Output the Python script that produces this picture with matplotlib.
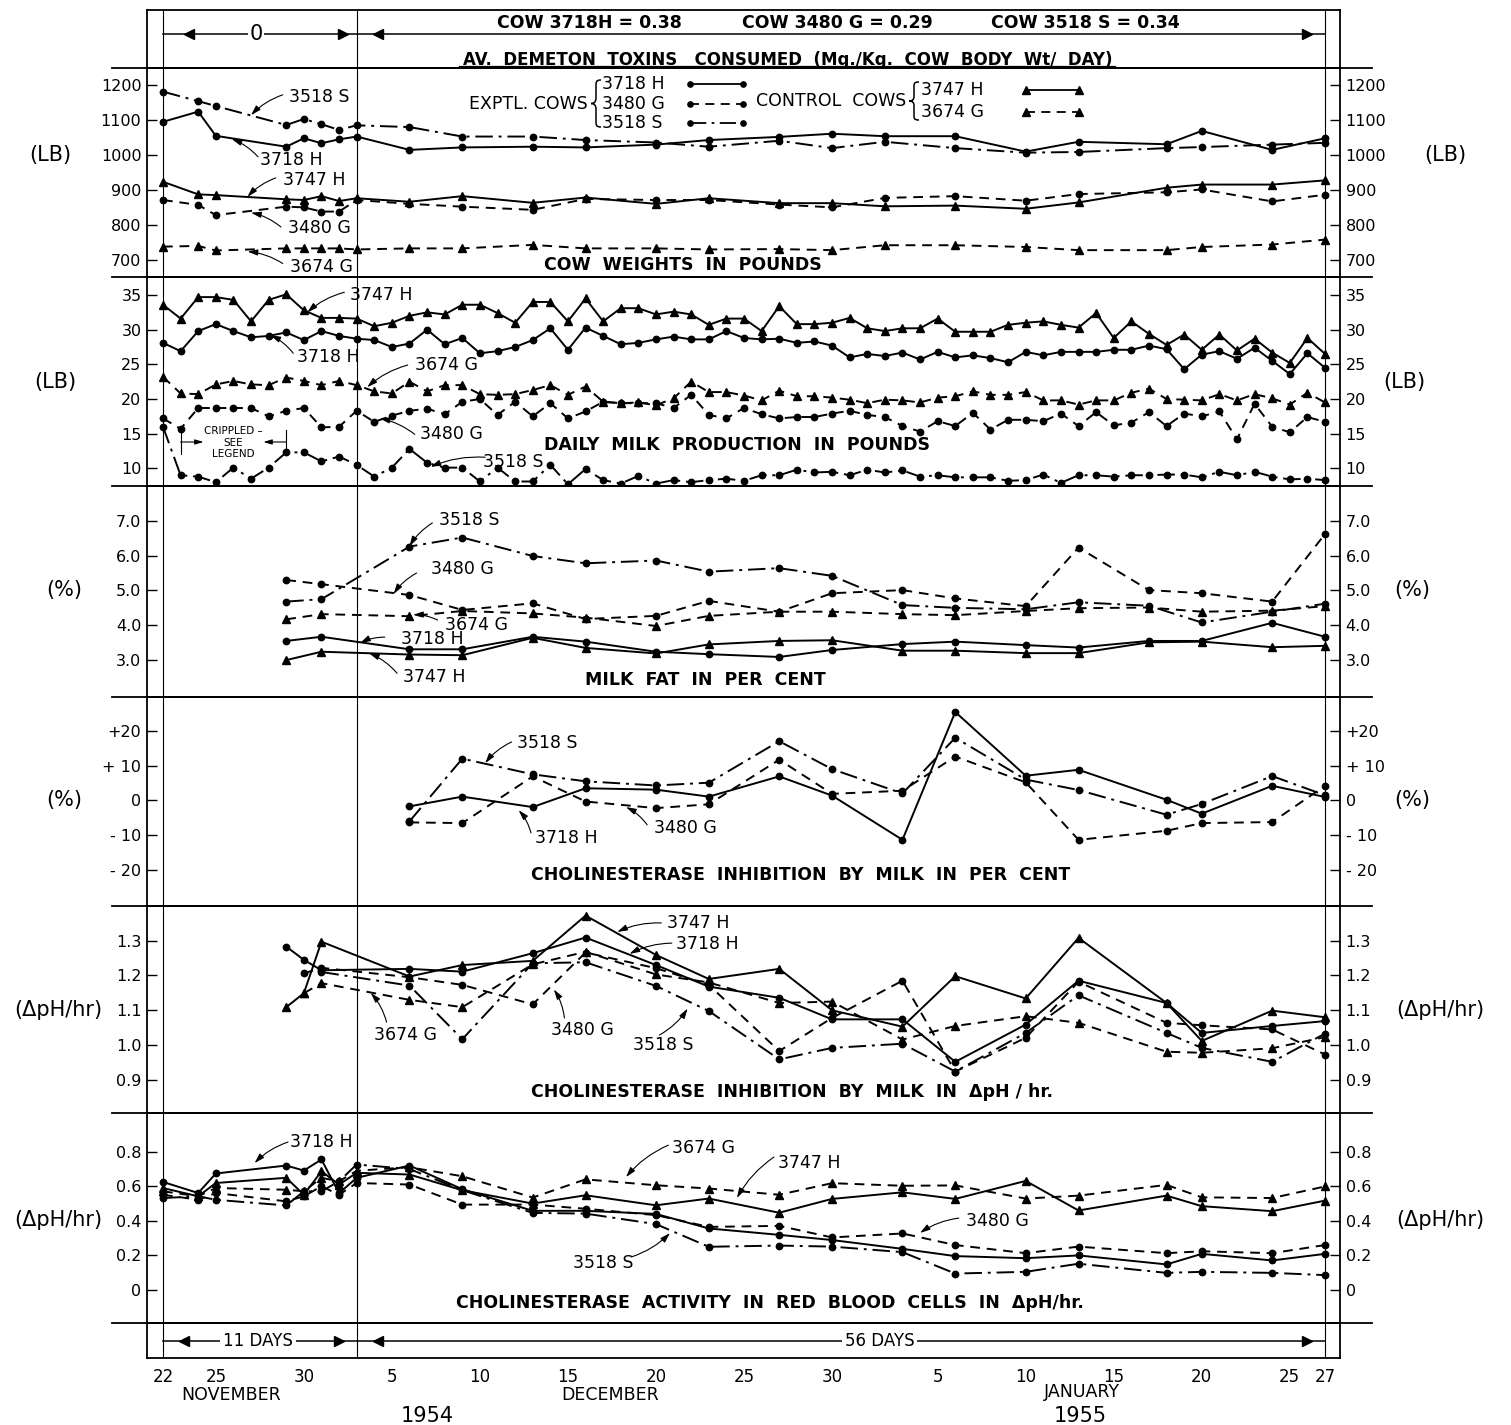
import matplotlib.pyplot as plt
from matplotlib.lines import Line2D
from matplotlib.path import Path
from matplotlib.patches import PathPatch
import numpy as np

plt.rcParams['font.family'] = ['DejaVu Sans']

nan = np.nan

# x = days after 22 Nov 1954 (day 0) ... 27 Jan 1955 (day 66)

# cow weights (lb)
wt_days = [0, 2, 3, 7, 8, 9, 10, 11, 14, 17, 21, 24, 28, 31, 35, 38, 41, 45, 49, 52, 57, 59, 63, 66]
wt_3718H = [1095, 1124, 1055, 1024, 1048, 1034, 1045, 1053, 1015, 1022, 1024, 1022, 1030, 1043,
            1052, 1061, 1054, 1054, 1010, 1038, 1031, 1069, 1015, 1048]
wt_3480G = [872, 858, 829, 853, 851, 839, 839, 872, 861, 853, 844, 875, 872, 872,
            859, 851, 878, 883, 870, 889, 894, 902, 868, 887]
wt_3518S = [1181, 1154, 1140, 1086, 1103, 1088, 1072, 1085, 1080, 1053, 1053, 1043, 1036, 1024,
            1041, 1020, 1038, 1020, 1007, 1009, 1020, 1023, 1030, 1035]
wt_3747H = [924, 888, 886, 874, 872, 883, 869, 877, 867, 883, 864, 879, 861, 877,
            863, 863, 854, 856, 847, 865, 907, 916, 916, 928]
wt_3674G = [739, 741, 728, 734, 734, 734, 734, 731, 734, 734, 744, 734, 734, 731,
            732, 729, 743, 743, 738, 729, 729, 738, 745, 759]

# daily milk production (lb), one reading per day
milk_days = list(range(0, 67))
milk_3747H = [33.6, 31.6, 34.7, 34.7, 34.3, 31.2, 34.3, 35.1, 32.8, 31.7, 31.7, 31.6, 30.5, 31.0, 32.0, 32.5,
              32.2, 33.6, 33.6, 32.4, 31.0, 34.0, 34.0, 31.2, 34.5, 31.2, 33.1, 33.1, 32.2, 32.6, 32.2, 30.7,
              31.6, 31.6, 29.8, 33.4, 30.8, 30.8, 31.0, 31.7, 30.2, 29.8, 30.2, 30.2, 31.6, 29.7, 29.7, 29.7,
              30.7, 31.0, 31.2, 30.7, 30.3, 32.4, 28.8, 31.2, 29.4, 27.8, 29.3, 27.1, 29.3, 27.0, 28.7, 26.7,
              25.2, 28.8, 26.5]
milk_3718H = [28.1, 26.9, 29.8, 30.8, 29.8, 28.9, 29.1, 29.6, 28.5, 29.8, 29.1, 28.7, 28.5, 27.5, 28.0, 30.0,
              27.9, 28.8, 26.6, 26.9, 27.5, 28.5, 30.2, 27.1, 30.3, 29.1, 27.9, 28.1, 28.6, 29.0, 28.6, 28.6,
              29.8, 28.8, 28.6, 28.7, 28.1, 28.3, 27.7, 26.0, 26.5, 26.2, 26.7, 25.7, 26.8, 26.0, 26.3, 25.9,
              25.3, 26.8, 26.3, 26.8, 26.8, 26.8, 27.1, 27.1, 27.7, 27.2, 24.3, 26.4, 26.9, 25.8, 27.4, 25.5,
              23.6, 26.6, 24.5]
milk_3674G = [23.2, 20.8, 20.7, 22.1, 22.6, 22.1, 22.0, 23.1, 22.6, 22.0, 22.6, 22.0, 21.1, 20.8, 22.5, 21.1,
              22.0, 22.0, 20.7, 20.6, 20.7, 21.3, 22.0, 20.6, 21.8, 19.6, 19.4, 19.5, 19.1, 20.1, 22.5, 21.0,
              21.0, 20.5, 19.8, 21.2, 20.4, 20.4, 20.2, 19.9, 19.4, 19.9, 19.8, 19.5, 20.2, 20.4, 21.1, 20.6,
              20.6, 21.0, 19.8, 19.8, 19.2, 19.8, 19.8, 20.9, 21.5, 20.0, 19.9, 19.8, 20.7, 19.8, 20.7, 20.1,
              19.2, 20.9, 19.5]
milk_3480G = [17.2, 15.7, 18.7, 18.7, 18.7, 18.7, 17.5, 18.3, 18.7, 15.9, 16.0, 18.3, 16.7, 17.6, 18.3, 18.6,
              17.8, 19.6, 20.0, 17.7, 19.6, 17.5, 19.4, 17.2, 18.2, 19.6, 19.4, 19.4, 19.4, 18.7, 20.6, 17.7,
              17.2, 18.7, 17.8, 17.2, 17.4, 17.4, 17.9, 18.3, 17.7, 17.4, 16.1, 15.3, 16.8, 16.1, 18.0, 15.6,
              17.0, 17.0, 16.8, 17.9, 16.1, 18.1, 16.2, 16.6, 18.1, 16.1, 17.9, 17.5, 18.2, 14.2, 19.3, 16.0,
              15.2, 17.4, 16.7]
milk_3518S = [16.0, 9.0, 8.8, 8.0, 10.1, 8.5, 10.1, 12.3, 12.3, 11.0, 11.7, 10.5, 8.8, 10.1, 12.8, 10.8,
              10.1, 10.1, 8.1, 10.1, 8.1, 8.1, 10.5, 7.7, 9.9, 8.3, 7.8, 8.9, 7.8, 8.3, 8.0, 8.3,
              8.5, 8.2, 9.0, 9.0, 9.8, 9.4, 9.5, 9.0, 9.8, 9.4, 9.7, 8.8, 9.0, 8.7, 8.7, 8.7,
              8.2, 8.3, 9.1, 7.9, 9.0, 9.0, 8.8, 9.0, 9.0, 9.1, 9.1, 8.7, 9.5, 9.0, 9.5, 8.8,
              8.4, 8.5, 8.3]

# milk fat (%)
fat_days = [7, 9, 14, 17, 21, 24, 28, 31, 35, 38, 42, 45, 49, 52, 56, 59, 63, 66]
fat_3718H = [3.55, 3.67, 3.31, 3.31, 3.67, 3.53, 3.24, 3.17, 3.09, 3.29, 3.46, 3.53, 3.43, 3.36, 3.55, 3.55, 4.07, 3.67]
fat_3480G = [5.30, 5.18, 4.87, 4.44, 4.63, 4.18, 4.27, 4.70, 4.39, 4.92, 5.01, 4.77, 4.55, 6.23, 5.01, 4.92, 4.68, 6.62]
fat_3518S = [4.68, 4.75, 6.26, 6.52, 5.99, 5.78, 5.86, 5.54, 5.64, 5.42, 4.58, 4.50, 4.46, 4.66, 4.56, 4.08, 4.39, 4.62]
fat_3747H = [3.00, 3.24, 3.16, 3.14, 3.64, 3.35, 3.19, 3.45, 3.55, 3.57, 3.27, 3.27, 3.20, 3.20, 3.51, 3.53, 3.37, 3.41]
fat_3674G = [4.17, 4.32, 4.26, 4.41, 4.34, 4.22, 3.98, 4.27, 4.39, 4.39, 4.32, 4.29, 4.41, 4.49, 4.51, 4.39, 4.42, 4.55]

# cholinesterase inhibition by milk (%)
ch_days = [14, 17, 21, 24, 28, 31, 35, 38, 42, 45, 49, 52, 57, 59, 63, 66]
ch_3718H = [-1.7, 1.1, -1.9, 3.5, 3.1, 1.1, 6.9, 1.4, -11.3, 25.4, 7.1, 8.8, 0.2, -3.8, 4.2, 1.0]
ch_3480G = [-6.3, -6.5, 6.9, -0.3, -2.2, -1.1, 11.7, 1.9, 2.8, 12.6, 5.2, -11.3, -8.7, -6.5, -6.2, 4.2]
ch_3518S = [-6.0, 12.0, 7.5, 5.5, 4.3, 5.1, 17.0, 9.0, 2.0, 18.0, 6.0, 3.0, -4.1, -1.0, 7.0, 1.5]

# cholinesterase inhibition by milk (delta pH / hr)
dp_days = [7, 8, 9, 14, 17, 21, 24, 28, 31, 35, 38, 42, 45, 49, 52, 57, 59, 63, 66]
dp_3747H = [1.109, 1.149, 1.297, 1.197, 1.230, 1.242, 1.372, 1.259, 1.190, 1.219, 1.100, 1.053, 1.198, 1.134,
            1.308, 1.121, 1.012, 1.099, 1.080]
dp_3718H = [1.283, 1.245, 1.215, 1.219, 1.211, 1.264, 1.309, 1.230, 1.168, 1.136, 1.074, 1.074, 0.952, 1.059,
            1.185, 1.121, 1.035, 1.055, 1.069]
dp_3480G = [nan, 1.206, 1.222, 1.195, 1.173, 1.117, 1.266, 1.221, 1.173, 0.983, 1.078, 1.185, 0.924, 1.021,
            1.182, 1.064, 1.057, 1.045, 0.973]
dp_3518S = [nan, nan, 1.210, 1.171, 1.017, 1.235, 1.238, 1.170, 1.098, 0.959, 0.992, 1.004, 0.924, 1.035,
            1.143, 1.035, 0.992, 0.952, 1.033]
dp_3674G = [nan, 1.149, 1.178, 1.130, 1.109, 1.232, 1.268, 1.203, 1.180, 1.121, 1.125, 1.016, 1.055, 1.083,
            1.064, 0.981, 0.978, 0.991, 1.023]

# cholinesterase activity in red blood cells (delta pH / hr)
rbc_days = [0, 2, 3, 7, 8, 9, 10, 11, 14, 17, 21, 24, 28, 31, 35, 38, 42, 45, 49, 52, 57, 59, 63, 66]
rbc_3718H = [0.625, 0.561, 0.674, 0.720, 0.691, 0.755, 0.560, 0.649, 0.720, 0.583, 0.458, 0.458,
             0.440, 0.356, 0.319, 0.289, 0.238, 0.196, 0.184, 0.200, 0.148, 0.209, 0.171, 0.209]
rbc_3747H = [0.590, 0.542, 0.619, 0.649, 0.551, 0.687, 0.610, 0.678, 0.668, 0.577, 0.500, 0.548,
             0.490, 0.529, 0.447, 0.527, 0.565, 0.527, 0.631, 0.460, 0.546, 0.485, 0.456, 0.517]
rbc_3674G = [0.571, 0.542, 0.590, 0.580, 0.571, 0.649, 0.629, 0.690, 0.710, 0.658, 0.535, 0.640,
             0.606, 0.587, 0.551, 0.618, 0.603, 0.605, 0.529, 0.546, 0.608, 0.536, 0.532, 0.599]
rbc_3480G = [0.551, 0.522, 0.561, 0.513, 0.542, 0.600, 0.551, 0.619, 0.610, 0.494, 0.494, 0.470,
             0.433, 0.365, 0.371, 0.304, 0.327, 0.260, 0.213, 0.251, 0.213, 0.224, 0.213, 0.260]
rbc_3518S = [0.532, 0.542, 0.522, 0.489, 0.571, 0.571, 0.629, 0.726, 0.700, 0.577, 0.446, 0.442,
             0.381, 0.250, 0.257, 0.251, 0.219, 0.095, 0.105, 0.152, 0.099, 0.105, 0.099, 0.086]

# calendar labels on the day axis
tick_days = [0, 3, 8, 13, 18, 23, 28, 33, 38, 44, 49, 54, 59, 64, 66]
tick_text = ['22', '25', '30', '5', '10', '15', '20', '25', '30', '5', '10', '15', '20', '25', '27']

# ---------------------------------------------------------------------------
W, H = 1511, 1425
fig = plt.figure(figsize=(W / 100, H / 100), dpi=100, facecolor='white')

X0, X1 = 147, 1340                  # frame edges (px)
PX_DAY = (1325 - 163) / 66.0
XLIM = ((X0 - 163) / PX_DAY, (X1 - 163) / PX_DAY)

def fx(x):
    return x / W

def fy(y):
    return 1 - y / H

STYLE = {
    '3718 H': dict(ls='-', marker='o', ms=4.6),
    '3480 G': dict(ls=(0, (5, 3.5)), marker='o', ms=4.6),
    '3518 S': dict(ls=(0, (9, 3, 1.5, 3)), marker='o', ms=4.6),
    '3747 H': dict(ls='-', marker='^', ms=6),
    '3674 G': dict(ls=(0, (5, 3.5)), marker='^', ms=6),
}

def panel(top, bot, ylim=(0, 1)):
    ax = fig.add_axes([fx(X0), fy(bot), (X1 - X0) / W, (bot - top) / H])
    ax.set_xlim(*XLIM)
    ax.set_ylim(*ylim)
    ax.set_xticks([])
    ax.patch.set_alpha(0)
    for s in ax.spines.values():
        s.set_linewidth(1.3)
    for d in (0, 11, 66):
        ax.axvline(d, color='k', lw=0.8, zorder=1)
    return ax

def yaxis(ax, ticks, labels):
    ax.set_yticks(ticks)
    ax.set_yticklabels(labels)
    ax.tick_params(axis='y', direction='in', length=7, width=1, left=True, right=True,
                   labelleft=True, labelright=True, labelsize=11.5, pad=4)

def series(ax, days, vals, cow):
    ax.plot(days, vals, color='k', lw=1.4, zorder=3, **STYLE[cow])

def tag(ax, text, txy, start, tip):
    ax.text(txy[0], txy[1], text, ha='center', va='center', fontsize=12.5, zorder=5)
    ax.annotate('', xy=tip, xytext=start,
                arrowprops=dict(arrowstyle='-|>,head_length=0.6,head_width=0.18', lw=0.8,
                                color='k', shrinkA=0, shrinkB=0,
                                connectionstyle='arc3,rad=0.12'))

def title(ax, text, x, y):
    ax.text(x, y, text, ha='center', va='center', fontsize=12.5, fontweight='bold')

def units(text, y, xl=58, xr=1438):
    fig.text(fx(xl), fy(y), text, ha='center', va='center', fontsize=15)
    fig.text(fx(xr), fy(y), text, ha='center', va='center', fontsize=15)

def brace(x, y0, y1, w):
    # left curly brace in figure pixels: tip at x, arms end at x + w
    h = y1 - y0
    ym = (y0 + y1) / 2
    b = x + w * 0.5
    pts = [(x + w, y0),
           (b, y0), (b, y0 + 0.04 * h), (b, y0 + 0.14 * h),
           (b, ym - 0.12 * h),
           (b, ym - 0.03 * h), (x + w * 0.3, ym), (x, ym),
           (x + w * 0.3, ym), (b, ym + 0.03 * h), (b, ym + 0.12 * h),
           (b, y1 - 0.14 * h),
           (b, y1 - 0.04 * h), (b, y1), (x + w, y1)]
    codes = [Path.MOVETO] + [Path.CURVE4] * 3 + [Path.LINETO] + [Path.CURVE4] * 6 + \
            [Path.LINETO] + [Path.CURVE4] * 3
    verts = [(fx(px), fy(py)) for px, py in pts]
    fig.add_artist(PathPatch(Path(verts, codes), fc='none', ec='k', lw=1.1,
                             transform=fig.transFigure))

# ---------------- header: toxin consumption ----------------
hd = panel(10, 68)
hd.set_yticks([])
hd.plot([0, 66], [0.586, 0.586], color='k', lw=1.1)
hd.plot([1.5, 12.2], [0.586, 0.586], ls='none', marker='<', ms=7, color='k')
hd.plot([10.2, 65.0], [0.586, 0.586], ls='none', marker='>', ms=7, color='k')
hd.text(5.3, 0.586, '0', ha='center', va='center', fontsize=15,
        bbox=dict(fc='white', ec='none', pad=1))
for x, s in [(24.2, 'COW 3718H = 0.38'), (38.3, 'COW 3480 G = 0.29'), (52.4, 'COW 3518 S = 0.34')]:
    hd.text(x, 0.78, s, ha='center', va='center', fontsize=12.5, fontweight='bold')
hd.text(35.5, 0.14, 'AV.  DEMETON  TOXINS   CONSUMED  (Mg./Kg.  COW  BODY  Wt/  DAY)',
        ha='center', va='center', fontsize=12, fontweight='bold')
hd.plot([16.8, 54.1], [0.03, 0.03], color='k', lw=0.9)

# ---------------- cow weights ----------------
ax = panel(68, 277, (652.4, 1248.5))
yaxis(ax, [700, 800, 900, 1000, 1100, 1200], ['700', '800', '900', '1000', '1100', '1200'])
series(ax, wt_days, wt_3718H, '3718 H')
series(ax, wt_days, wt_3480G, '3480 G')
series(ax, wt_days, wt_3518S, '3518 S')
series(ax, wt_days, wt_3747H, '3747 H')
series(ax, wt_days, wt_3674G, '3674 G')
tag(ax, '3518 S', (8.9, 1166), (6.8, 1172), (5.0, 1114))
tag(ax, '3718 H', (7.3, 987), (5.4, 995), (3.9, 1046))
tag(ax, '3747 H', (8.6, 929), (6.4, 935), (4.8, 881))
tag(ax, '3480 G', (8.9, 792), (6.7, 795), (5.0, 836))
tag(ax, '3674 G', (9.0, 681), (6.8, 691), (4.8, 725))
title(ax, 'COW  WEIGHTS  IN  POUNDS', 29.5, 687)
units('(LB)', 155, xl=50, xr=1445)

# legend drawn in figure pixels
fig.text(fx(588), fy(104), 'EXPTL. COWS', ha='right', va='center', fontsize=12.5)
brace(591, 80, 127, 10)
fig.text(fx(906), fy(101), 'CONTROL  COWS', ha='right', va='center', fontsize=12.5)
brace(909, 82, 120, 10)
for cow, y, xt, xs in [('3718 H', 84, 602, 690), ('3480 G', 104, 602, 690), ('3518 S', 123, 602, 690),
                       ('3747 H', 90, 921, 1026), ('3674 G', 112, 921, 1026)]:
    fig.text(fx(xt), fy(y), cow, ha='left', va='center', fontsize=12.5)
    st = STYLE[cow]
    fig.add_artist(Line2D([fx(xs), fx(xs + 53)], [fy(y), fy(y)], color='k', lw=1.3,
                          ls=st['ls'], marker=st['marker'], ms=st['ms'] - 0.8,
                          transform=fig.transFigure))

# ---------------- milk production ----------------
ax = panel(277, 486, (7.45, 37.6))
yaxis(ax, [10, 15, 20, 25, 30, 35], ['10', '15', '20', '25', '30', '35'])
series(ax, milk_days, milk_3747H, '3747 H')
series(ax, milk_days, milk_3718H, '3718 H')
series(ax, milk_days, milk_3674G, '3674 G')
series(ax, milk_days, milk_3480G, '3480 G')
series(ax, milk_days, milk_3518S, '3518 S')
tag(ax, '3747 H', (12.4, 35.0), (10.3, 35.4), (8.2, 32.5))
tag(ax, '3718 H', (9.4, 26.1), (7.4, 26.6), (6.1, 29.2))
tag(ax, '3674 G', (16.1, 24.9), (13.9, 24.9), (11.6, 21.7))
tag(ax, '3480 G', (16.4, 14.9), (14.3, 14.9), (12.3, 17.2))
tag(ax, '3518 S', (19.9, 10.9), (18.3, 11.6), (15.2, 10.2))
ax.text(4.0, 15.4, 'CRIPPLED –', ha='center', va='center', fontsize=7.5)
ax.text(4.0, 13.7, 'SEE', ha='center', va='center', fontsize=7.5)
ax.text(4.0, 12.0, 'LEGEND', ha='center', va='center', fontsize=7.5)
ax.annotate('', xy=(2.3, 13.8), xytext=(1.0, 13.8),
            arrowprops=dict(arrowstyle='-|>,head_length=0.5,head_width=0.15', lw=0.8, color='k',
                            shrinkA=0, shrinkB=0))
ax.annotate('', xy=(5.7, 13.8), xytext=(7.0, 13.8),
            arrowprops=dict(arrowstyle='-|>,head_length=0.5,head_width=0.15', lw=0.8, color='k',
                            shrinkA=0, shrinkB=0))
ax.plot([1.0, 1.0], [12.0, 15.6], color='k', lw=0.8)
ax.plot([7.0, 7.0], [12.0, 15.6], color='k', lw=0.8)
title(ax, 'DAILY  MILK  PRODUCTION  IN  POUNDS', 32.6, 13.4)
units('(LB)', 382, xl=55, xr=1404)

# ---------------- milk fat ----------------
ax = panel(486, 697, (1.94, 8.0))
yaxis(ax, [3, 4, 5, 6, 7], ['3.0', '4.0', '5.0', '6.0', '7.0'])
series(ax, fat_days, fat_3518S, '3518 S')
series(ax, fat_days, fat_3480G, '3480 G')
series(ax, fat_days, fat_3674G, '3674 G')
series(ax, fat_days, fat_3718H, '3718 H')
series(ax, fat_days, fat_3747H, '3747 H')
tag(ax, '3518 S', (17.4, 7.03), (15.3, 6.94), (14.0, 6.27))
tag(ax, '3480 G', (17.0, 5.62), (14.4, 5.50), (13.1, 4.90))
tag(ax, '3674 G', (17.8, 4.00), (15.6, 4.15), (14.2, 4.30))
tag(ax, '3718 H', (15.3, 3.60), (12.6, 3.66), (11.2, 3.49))
tag(ax, '3747 H', (15.4, 2.51), (13.3, 2.62), (11.7, 3.20))
title(ax, 'MILK  FAT  IN  PER  CENT', 30.8, 2.42)
units('(%)', 590, xl=64, xr=1412)

# ---------------- cholinesterase inhibition, per cent ----------------
ax = panel(697, 906, (-30.3, 29.7))
yaxis(ax, [-20, -10, 0, 10, 20], ['- 20', '- 10', '0', '+ 10', '+20'])
series(ax, ch_days, ch_3718H, '3718 H')
series(ax, ch_days, ch_3480G, '3480 G')
series(ax, ch_days, ch_3518S, '3518 S')
tag(ax, '3518 S', (21.8, 16.5), (19.8, 16.8), (18.3, 10.7))
tag(ax, '3718 H', (22.9, -10.8), (20.9, -9.3), (20.2, -2.8))
tag(ax, '3480 G', (29.7, -7.9), (27.5, -7.0), (26.3, -1.9))
title(ax, 'CHOLINESTERASE  INHIBITION  BY  MILK  IN  PER  CENT', 36.2, -21.4)
units('(%)', 800, xl=64, xr=1412)

# ---------------- cholinesterase inhibition, delta pH/hr ----------------
ax = panel(906, 1113, (0.805, 1.3996))
yaxis(ax, [0.9, 1.0, 1.1, 1.2, 1.3], ['0.9', '1.0', '1.1', '1.2', '1.3'])
series(ax, dp_days, dp_3747H, '3747 H')
series(ax, dp_days, dp_3718H, '3718 H')
series(ax, dp_days, dp_3480G, '3480 G')
series(ax, dp_days, dp_3518S, '3518 S')
series(ax, dp_days, dp_3674G, '3674 G')
tag(ax, '3747 H', (30.4, 1.351), (28.3, 1.351), (25.8, 1.325))
tag(ax, '3718 H', (30.9, 1.290), (28.9, 1.293), (26.5, 1.262))
tag(ax, '3674 G', (13.8, 1.029), (12.7, 1.066), (11.8, 1.150))
tag(ax, '3480 G', (23.8, 1.043), (22.8, 1.078), (22.2, 1.160))
tag(ax, '3518 S', (28.4, 1.000), (28.2, 1.029), (29.8, 1.105))
title(ax, 'CHOLINESTERASE  INHIBITION  BY  MILK  IN  \u0394pH / hr.', 35.7, 0.866)
units('(\u0394pH/hr)', 1010, xl=58, xr=1440)

# ---------------- RBC cholinesterase activity ----------------
ax = panel(1113, 1323, (-0.191, 1.024))
yaxis(ax, [0, 0.2, 0.4, 0.6, 0.8], ['0', '0.2', '0.4', '0.6', '0.8'])
series(ax, rbc_days, rbc_3674G, '3674 G')
series(ax, rbc_days, rbc_3747H, '3747 H')
series(ax, rbc_days, rbc_3718H, '3718 H')
series(ax, rbc_days, rbc_3480G, '3480 G')
series(ax, rbc_days, rbc_3518S, '3518 S')
tag(ax, '3718 H', (9.0, 0.856), (7.1, 0.856), (5.2, 0.734))
tag(ax, '3674 G', (30.7, 0.821), (28.7, 0.838), (26.3, 0.653))
tag(ax, '3747 H', (36.7, 0.734), (34.7, 0.769), (32.6, 0.532))
tag(ax, '3480 G', (47.4, 0.399), (45.2, 0.416), (43.0, 0.330))
tag(ax, '3518 S', (25.0, 0.156), (26.6, 0.191), (28.8, 0.330))
title(ax, 'CHOLINESTERASE  ACTIVITY  IN  RED  BLOOD  CELLS  IN  \u0394pH/hr.', 34.5, -0.075)
units('(\u0394pH/hr)', 1220, xl=58, xr=1440)

# ---------------- bottom: day counts and calendar axis ----------------
dy = panel(1323, 1358)
dy.set_yticks([])
dy.plot([0, 66], [0.5, 0.5], color='k', lw=1.1)
dy.plot([1.2, 12.2], [0.5, 0.5], ls='none', marker='<', ms=7, color='k')
dy.plot([10.0, 65.0], [0.5, 0.5], ls='none', marker='>', ms=7, color='k')
dy.text(5.4, 0.5, '11 DAYS', ha='center', va='center', fontsize=12,
        bbox=dict(fc='white', ec='none', pad=2))
dy.text(40.7, 0.5, '56 DAYS', ha='center', va='center', fontsize=12,
        bbox=dict(fc='white', ec='none', pad=2))
dy.set_xticks(tick_days)
dy.set_xticklabels(tick_text, fontsize=12)
dy.tick_params(axis='x', length=0, pad=7)

fig.text(fx(231), fy(1395), 'NOVEMBER', ha='center', va='center', fontsize=12.5)
fig.text(fx(610), fy(1395), 'DECEMBER', ha='center', va='center', fontsize=12.5)
fig.text(fx(1082), fy(1392), 'JANUARY', ha='center', va='center', fontsize=12.5)
fig.text(fx(427), fy(1416), '1954', ha='center', va='center', fontsize=15)
fig.text(fx(1080), fy(1416), '1955', ha='center', va='center', fontsize=15)

# separators run a little past the frame on both sides
for y in (68, 277, 486, 697, 906, 1113, 1323):
    fig.add_artist(Line2D([fx(112), fx(1372)], [fy(y), fy(y)], color='k', lw=1.3,
                          transform=fig.transFigure))

fig.savefig('out.png', dpi=100, facecolor='white')
